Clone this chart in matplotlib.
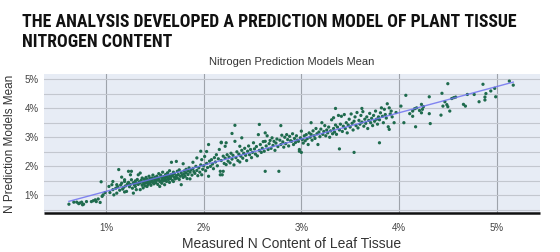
import numpy as np
import matplotlib
matplotlib.use("Agg")
import matplotlib.pyplot as plt
from matplotlib.ticker import FuncFormatter, MultipleLocator

# ---- data ----
pts = [
    # 0.6 - 1.0
    (0.62,0.70),(0.67,0.77),(0.70,0.77),(0.72,0.72),(0.73,0.74),(0.75,0.77),(0.76,0.68),(0.77,0.70),
    (0.80,0.79),(0.85,0.79),(0.87,0.82),(0.89,0.85),(0.90,0.79),(0.92,0.88),(0.94,0.76),(0.95,1.47),
    (0.96,0.97),(0.97,1.02),(0.99,1.10),
    # 1.0 - 1.2
    (1.03,1.31),(1.04,1.10),(1.06,1.37),(1.07,1.20),(1.07,1.48),(1.08,1.02),(1.10,1.25),(1.11,1.08),
    (1.11,1.37),(1.12,1.30),(1.13,1.89),(1.14,1.18),(1.15,1.36),(1.16,1.42),(1.16,1.63),(1.17,1.22),
    (1.18,1.28),(1.19,1.48),(1.19,1.12),(1.19,1.54),
    # 1.2 - 1.4
    (1.20,1.33),(1.21,1.14),(1.22,1.40),(1.23,1.83),(1.23,1.45),(1.24,1.30),(1.25,1.71),(1.25,1.38),
    (1.26,1.54),(1.26,1.83),(1.27,1.25),(1.28,1.08),(1.28,1.44),(1.29,1.36),(1.30,1.31),(1.30,1.50),
    (1.31,1.20),(1.31,1.42),(1.32,1.55),(1.33,1.71),(1.33,1.38),(1.34,1.47),(1.35,1.43),(1.35,1.20),
    (1.35,1.77),(1.36,1.52),(1.37,1.35),(1.37,1.60),(1.38,1.26),(1.38,1.45),(1.39,1.56),(1.39,1.40),
    # 1.4 - 1.6
    (1.40,1.50),(1.40,1.33),(1.41,1.62),(1.41,1.44),(1.42,1.31),(1.42,1.55),(1.43,1.48),(1.43,1.38),
    (1.44,1.66),(1.44,1.52),(1.45,1.42),(1.45,1.58),(1.46,1.47),(1.46,1.35),(1.47,1.60),(1.47,1.53),
    (1.48,1.45),(1.48,1.70),(1.49,1.56),(1.49,1.40),(1.50,1.62),(1.50,1.50),(1.51,1.44),(1.51,1.58),
    (1.52,1.66),(1.52,1.52),(1.53,1.38),(1.53,1.60),(1.54,1.75),(1.54,1.55),(1.55,1.31),(1.55,1.48),
    (1.56,1.63),(1.56,1.70),(1.57,1.52),(1.57,1.42),(1.58,1.58),(1.58,1.80),(1.59,1.65),(1.59,1.50),
    # 1.6 - 1.8
    (1.60,1.37),(1.60,1.60),(1.61,1.72),(1.61,1.55),(1.62,1.66),(1.62,1.48),(1.63,1.78),(1.63,1.62),
    (1.64,1.55),(1.64,1.70),(1.65,1.45),(1.65,1.85),(1.66,1.64),(1.66,1.58),(1.67,2.14),(1.67,1.72),
    (1.68,1.52),(1.68,1.67),(1.69,1.48),(1.69,1.80),(1.70,1.62),(1.70,1.74),(1.71,1.57),(1.72,2.17),
    (1.72,1.68),(1.73,1.83),(1.73,1.60),(1.74,1.72),(1.75,1.55),(1.75,1.88),(1.76,1.66),(1.77,1.37),
    (1.77,1.78),(1.78,1.70),(1.79,2.09),(1.79,1.62),
    # 1.8 - 2.0
    (1.80,1.84),(1.80,1.74),(1.81,1.66),(1.82,1.90),(1.82,1.78),(1.83,1.58),(1.84,1.85),(1.84,1.72),
    (1.85,1.95),(1.86,1.57),(1.86,1.80),(1.87,1.88),(1.88,1.70),(1.89,2.14),(1.89,1.92),(1.90,1.82),
    (1.91,1.76),(1.92,2.00),(1.93,2.29),(1.93,1.86),(1.94,1.68),(1.95,1.95),(1.96,1.80),(1.97,2.52),
    (1.97,2.05),(1.98,2.23),(1.98,1.71),(1.99,1.90),
    # 2.0 - 2.2
    (2.00,2.02),(2.01,2.34),(2.02,1.85),(2.03,2.51),(2.03,2.10),(2.04,1.96),(2.05,2.75),(2.05,1.66),
    (2.06,2.18),(2.07,2.00),(2.08,2.23),(2.09,2.08),(2.10,1.92),(2.11,2.30),(2.12,2.15),(2.13,2.40),
    (2.14,2.02),(2.15,2.26),(2.16,2.58),(2.17,1.71),(2.17,1.83),(2.18,2.83),(2.18,2.81),(2.18,2.20),
    (2.19,1.71),(2.20,1.83),(2.20,2.35),
    # 2.2 - 2.4
    (2.21,2.10),(2.22,2.69),(2.22,2.28),(2.23,2.81),(2.23,2.06),(2.24,2.40),(2.25,2.18),(2.26,2.32),
    (2.27,2.12),(2.28,2.45),(2.29,3.13),(2.29,2.25),(2.30,2.38),(2.31,2.05),(2.32,2.86),(2.32,3.41),
    (2.33,2.30),(2.34,2.50),(2.35,2.20),(2.36,2.42),(2.37,2.69),(2.37,2.15),(2.38,2.35),(2.39,2.98),
    (2.39,2.55),
    # 2.4 - 2.6
    (2.40,2.28),(2.41,2.45),(2.42,2.62),(2.43,2.38),(2.44,2.20),(2.45,2.52),(2.46,2.70),(2.47,2.40),
    (2.48,2.58),(2.49,2.30),(2.50,2.48),(2.51,2.81),(2.52,2.60),(2.53,2.42),(2.54,2.68),(2.55,2.36),
    (2.56,3.09),(2.57,3.44),(2.57,2.55),(2.58,2.75),(2.59,2.48),
    # 2.6 - 2.8
    (2.60,2.62),(2.61,2.85),(2.62,2.52),(2.63,3.15),(2.63,2.86),(2.63,1.83),(2.64,2.70),(2.65,3.05),
    (2.66,2.58),(2.67,2.78),(2.68,2.89),(2.69,2.62),(2.70,2.98),(2.71,2.72),(2.72,2.86),(2.73,2.55),
    (2.74,2.80),(2.75,2.94),(2.76,2.68),(2.77,1.83),(2.78,2.90),(2.79,3.40),(2.79,2.75),
    # 2.8 - 3.0
    (2.80,3.07),(2.81,2.84),(2.82,2.66),(2.83,3.00),(2.84,2.78),(2.85,3.09),(2.86,2.92),(2.87,2.70),
    (2.88,3.03),(2.89,2.88),(2.90,2.86),(2.91,3.12),(2.92,2.75),(2.93,2.96),(2.94,2.82),(2.95,3.05),
    (2.96,2.90),(2.97,2.86),(2.98,2.58),(2.98,2.52),(2.99,2.98),
    # 3.0 - 3.2
    (3.00,3.21),(3.00,2.48),(3.01,2.92),(3.02,2.80),(3.03,3.05),(3.04,2.88),(3.05,3.09),(3.06,2.95),
    (3.07,2.75),(3.08,3.15),(3.09,3.00),(3.10,3.50),(3.10,3.10),(3.11,2.90),(3.12,3.22),(3.13,3.05),
    (3.14,2.96),(3.15,3.30),(3.16,3.12),(3.17,2.75),(3.18,3.18),(3.19,3.02),
    # 3.2 - 3.4
    (3.20,3.28),(3.21,3.50),(3.22,3.10),(3.23,3.20),(3.24,3.40),(3.25,3.05),(3.26,3.25),(3.27,3.15),
    (3.28,3.35),(3.29,3.00),(3.30,3.22),(3.31,3.60),(3.32,3.12),(3.33,3.67),(3.33,3.30),(3.34,3.18),
    (3.35,3.99),(3.35,3.42),(3.36,3.10),(3.37,3.35),(3.38,3.75),(3.39,2.60),(3.39,3.25),
    # 3.4 - 3.6
    (3.40,3.45),(3.41,3.72),(3.42,3.20),(3.43,3.38),(3.44,3.78),(3.45,3.30),(3.46,3.50),(3.47,3.15),
    (3.48,3.42),(3.49,3.62),(3.50,3.35),(3.51,3.80),(3.52,3.48),(3.53,3.25),(3.54,2.48),(3.54,3.55),
    (3.55,3.70),(3.56,3.40),(3.57,3.85),(3.58,3.32),(3.59,3.58),
    # 3.6 - 3.8
    (3.60,3.45),(3.61,3.75),(3.62,3.99),(3.62,3.52),(3.63,3.88),(3.64,3.38),(3.65,3.62),(3.66,3.48),
    (3.67,3.70),(3.68,3.30),(3.69,3.58),(3.70,3.82),(3.71,3.50),(3.72,3.65),(3.73,3.40),(3.74,3.75),
    (3.75,3.55),(3.76,3.90),(3.77,3.62),(3.78,3.45),(3.79,3.70),
    # 3.8 - 4.0
    (3.80,2.81),(3.80,3.60),(3.81,3.84),(3.82,4.01),(3.83,3.72),(3.84,3.50),(3.85,3.96),(3.86,3.78),
    (3.87,3.66),(3.88,4.15),(3.89,3.36),(3.90,3.27),(3.90,4.01),(3.91,3.80),(3.92,3.90),(3.93,3.70),
    (3.95,3.50),(3.97,3.85),
    # 4.0 - 4.4
    (4.02,4.07),(4.05,3.50),(4.07,4.44),(4.11,3.81),(4.14,3.90),(4.14,3.72),(4.16,3.98),(4.17,3.36),
    (4.18,4.01),(4.21,3.92),(4.23,4.13),(4.23,3.84),(4.24,3.96),(4.25,4.05),(4.31,4.39),(4.31,3.81),
    (4.32,3.47),(4.43,3.76),
    # 4.4 - 5.2
    (4.44,4.51),(4.45,4.07),(4.47,4.22),(4.49,4.12),(4.50,4.84),(4.50,4.05),(4.52,3.90),(4.54,4.33),
    (4.56,4.36),(4.58,4.38),(4.66,4.13),(4.68,4.07),(4.70,4.47),(4.77,4.47),(4.82,4.22),(4.86,4.82),
    (4.88,4.38),(4.88,4.28),(4.89,4.50),(4.94,4.59),(4.98,4.68),(4.99,4.39),(5.13,4.93),(5.17,4.79),
]
measured_n = [p[0] for p in pts]
predicted_n = [p[1] for p in pts]
x_ticks = [1, 2, 3, 4, 5]
y_ticks = [1, 2, 3, 4, 5]

title = "THE ANALYSIS DEVELOPED A PREDICTION MODEL OF PLANT TISSUE\nNITROGEN CONTENT"
subtitle = "Nitrogen Prediction Models Mean"
xlabel = "Measured N Content of Leaf Tissue"
ylabel = "N Prediction Models Mean"

# ---- figure ----
fig = plt.figure(figsize=(5.6, 2.52), dpi=100)
fig.patch.set_facecolor("white")
ax = fig.add_axes([0.0786, 0.155, 0.885, 0.551])
ax.set_facecolor("#e7ecf5")

x = np.array(measured_n)
y = np.array(predicted_n)
ax.scatter(x, y, s=5.5, color="#1f6b4e", edgecolors="none", zorder=3)

slope, intercept = np.polyfit(x, y, 1)
xl = np.array([x.min(), x.max()])
ax.plot(xl, slope * xl + intercept, color="#6f72f0", lw=1.0, alpha=0.85, zorder=4)

ax.set_xlim(0.365, 5.44)
ax.set_ylim(0.40, 5.17)
ax.set_xticks(x_ticks)
ax.set_yticks(y_ticks)
ax.yaxis.set_minor_locator(MultipleLocator(0.5))
fmt = FuncFormatter(lambda v, p: f"{v:g}%")
ax.xaxis.set_major_formatter(fmt)
ax.yaxis.set_major_formatter(fmt)

ax.grid(axis="x", which="major", color="#9ea3ab", lw=0.8, zorder=1)
ax.grid(axis="y", which="both", color="#c3c7cf", lw=0.8, zorder=1)
ax.set_axisbelow(True)

for s in ["top", "right", "left"]:
    ax.spines[s].set_visible(False)
ax.spines["bottom"].set_color("#111111")
ax.spines["bottom"].set_linewidth(1.8)
ax.spines["bottom"].set_capstyle("butt")

ax.tick_params(axis="both", which="both", length=0, labelsize=7, labelcolor="#444444",
               colors="#444444")
ax.tick_params(axis="x", pad=7)
ax.tick_params(axis="y", pad=4)
for lab in ax.get_xticklabels() + ax.get_yticklabels():
    lab.set_family(["Liberation Sans", "DejaVu Sans"])

ax.set_xlabel(xlabel, fontsize=10, color="#333333", family=["Liberation Sans", "DejaVu Sans"], labelpad=3)
ax.set_ylabel(ylabel, fontsize=8.5, color="#333333", family=["Liberation Sans", "DejaVu Sans"], labelpad=6)

fig.text(0.5 * (0.0786 + 0.9636), 0.735, subtitle, ha="center", va="bottom", fontsize=8,
         color="#333333", family=["Liberation Sans", "DejaVu Sans"])
fig.text(22 / 560, 1 - 13 / 252, title, ha="left", va="top", fontsize=12.8, fontweight="bold",
         color="#111111", linespacing=1.15,
         family=["Liberation Sans Narrow", "Roboto Condensed", "DejaVu Sans"])

fig.savefig("out.png", dpi=100, facecolor="white")
